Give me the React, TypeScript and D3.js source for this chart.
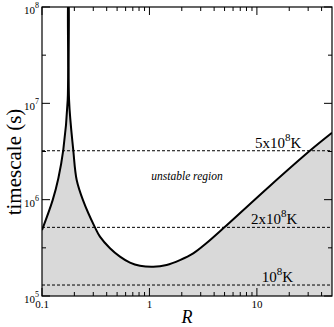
import React, { useRef, useEffect } from "react";
import * as d3 from "d3";

// curve: R vs timescale (s)
const rVals = [0.1, 0.1257, 0.142, 0.1578, 0.1734, 0.1757, 0.1763, 0.1786, 0.1954, 0.2103, 0.2406, 0.311, 0.3462, 0.4291, 0.5316, 0.6585, 0.8158, 1.085, 1.445, 1.922, 2.555, 3.404, 4.86, 13.2, 31.1, 50];
const tVals = [4.84e5, 9.9e5, 1.67e6, 3.28e6, 1.08e7, 1.3e8, 1.3e8, 1.08e7, 3.28e6, 1.6e6, 9.9e5, 5.16e5, 4.13e5, 3.13e5, 2.56e5, 2.22e5, 2.06e5, 2.01e5, 2.1e5, 2.36e5, 2.77e5, 3.55e5, 5.04e5, 1.39e6, 3.22e6, 4.95e6];

// horizontal dashed levels and their labels
const levelVals = [3.22e6, 5.16e5, 1.3e5];
const levelPre = ["5x10", "2x10", "10"];
const levelX = [255, 251, 261.7];

const xMajor = [0.1, 1, 10];
const xMajorLabels = ["0.1", "1", "10"];
const xMinor = [0.2, 0.3, 0.4, 0.5, 0.6, 0.7, 0.8, 0.9, 2, 3, 4, 5, 6, 7, 8, 9, 20, 30, 40];
const yMajor = [1e5, 1e6, 1e7, 1e8];
const yMajorExp = ["5", "6", "7", "8"];
const yMinor = [Math.pow(10, 5.5), Math.pow(10, 6.5), Math.pow(10, 7.5)];

const App = () => {
  const svgRef = useRef(null);

  useEffect(() => {
    const width = 334;
    const height = 327;
    const L = 42, R = 332, T = 7, B = 296;
    const font = "'Liberation Serif', 'Times New Roman', serif";

    const svg = d3.select(svgRef.current).attr("width", width).attr("height", height).html("");

    const x = d3.scaleLog().domain([0.1, 50]).range([L, R]);
    const y = d3.scaleLog().domain([1e5, 1e8]).range([B, T]);

    svg.append("defs").append("clipPath").attr("id", "plotclip")
      .append("rect").attr("x", L).attr("y", T).attr("width", R - L).attr("height", B - T);

    const pts = rVals.map((r, i) => [r, tVals[i]]);
    const g = svg.append("g").attr("clip-path", "url(#plotclip)");
    const crv = d3.curveCatmullRom.alpha(0.5);

    const area = d3.area()
      .x((d) => x(d[0]))
      .y0(B)
      .y1((d) => y(d[1]))
      .curve(crv);
    g.append("path").attr("d", area(pts)).attr("fill", "#d9d9d9");

    // dashed lines
    levelVals.forEach((v) => {
      g.append("line")
        .attr("x1", L).attr("x2", R)
        .attr("y1", y(v)).attr("y2", y(v))
        .attr("stroke", "#000").attr("stroke-width", 1)
        .attr("stroke-dasharray", "3,2");
    });

    const line = d3.line()
      .x((d) => x(d[0]))
      .y((d) => y(d[1]))
      .curve(crv);
    g.append("path").attr("d", line(pts)).attr("fill", "none")
      .attr("stroke", "#000").attr("stroke-width", 2);

    // frame
    svg.append("rect").attr("x", L).attr("y", T).attr("width", R - L).attr("height", B - T)
      .attr("fill", "none").attr("stroke", "#000").attr("stroke-width", 1.2);

    // ticks
    const tk = svg.append("g").attr("stroke", "#000").attr("stroke-width", 1);
    const xt = (vals, len) => vals.forEach((v) => {
      tk.append("line").attr("x1", x(v)).attr("x2", x(v)).attr("y1", B).attr("y2", B - len);
      tk.append("line").attr("x1", x(v)).attr("x2", x(v)).attr("y1", T).attr("y2", T + len);
    });
    const yt = (vals, len) => vals.forEach((v) => {
      tk.append("line").attr("y1", y(v)).attr("y2", y(v)).attr("x1", L).attr("x2", L + len);
      tk.append("line").attr("y1", y(v)).attr("y2", y(v)).attr("x1", R).attr("x2", R - len);
    });
    xt(xMajor, 8);
    xt(xMinor, 4);
    yt(yMajor, 8);
    yt(yMinor, 4);

    // tick labels
    xMajor.forEach((v, i) => {
      svg.append("text").attr("x", x(v)).attr("y", 308).attr("text-anchor", "middle")
        .attr("font-family", font).attr("font-size", 11).text(xMajorLabels[i]);
    });
    yMajor.forEach((v, i) => {
      const t = svg.append("text").attr("x", 39).attr("y", y(v) + 7).attr("text-anchor", "end")
        .attr("font-family", font).attr("font-size", 11);
      t.append("tspan").text("10");
      t.append("tspan").attr("dy", -6).attr("font-size", 8).text(yMajorExp[i]);
    });

    // level labels
    levelVals.forEach((v, i) => {
      const t = svg.append("text").attr("x", levelX[i]).attr("y", y(v) - 3)
        .attr("font-family", font).attr("font-size", 15);
      t.append("tspan").text(levelPre[i]);
      t.append("tspan").attr("dy", -7).attr("font-size", 11).text("8");
      t.append("tspan").attr("dy", 7).text("K");
    });

    svg.append("text").attr("x", 187).attr("y", 180).attr("text-anchor", "middle")
      .attr("font-family", font).attr("font-style", "italic").attr("font-size", 11.5)
      .text("unstable region");

    svg.append("text").attr("x", 187).attr("y", 323).attr("text-anchor", "middle")
      .attr("font-family", font).attr("font-style", "italic").attr("font-size", 18)
      .text("R");

    svg.append("text").attr("transform", "translate(21,162) rotate(-90)")
      .attr("text-anchor", "middle").attr("font-family", font).attr("font-size", 21)
      .text("timescale (s)");
  }, []);

  return <svg ref={svgRef} style={{ position: "absolute", left: 0, top: 0 }} />;
};

export default App;
